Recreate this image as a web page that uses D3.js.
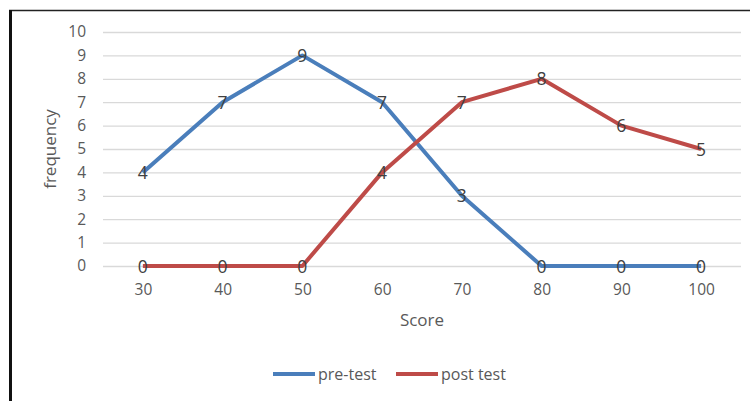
<!DOCTYPE html>
<html><head><meta charset="utf-8">
<script src="https://cdn.jsdelivr.net/npm/d3@7"></script>
<style>body{margin:0;background:#fff}svg{display:block}</style>
</head><body>
<svg id="c" width="750" height="401"></svg>
<script>
const categories = ["30","40","50","60","70","80","90","100"];
const preTest = [4,7,9,7,3,0,0,0];
const postTest = [0,0,0,4,7,8,6,5];
const yTicks = [0,1,2,3,4,5,6,7,8,9,10];
const seriesNames = ["pre-test","post test"];
const colors = ["#4a7ebb","#be4b48"];

const svg = d3.select("#c");
const font = "'Open Sans', 'Liberation Sans', sans-serif";
const L = 103, R = 741, T = 32, B = 266;

svg.append("rect").attr("x",0).attr("y",0).attr("width",750).attr("height",401).attr("fill","#fff");
// frame
svg.append("line").attr("x1",9).attr("x2",750).attr("y1",10.5).attr("y2",10.5).attr("stroke","#222").attr("stroke-width",1.5);
svg.append("line").attr("x1",10.5).attr("x2",10.5).attr("y1",10).attr("y2",401).attr("stroke","#111").attr("stroke-width",3);

const x = d3.scalePoint().domain(categories).range([L,R]).padding(0.5);
const y = d3.scaleLinear().domain([0,10]).range([B,T]);

const yAxis = svg.append("g").attr("transform",`translate(${L},0)`)
  .call(d3.axisLeft(y).tickValues(yTicks).tickSize(-(R-L)).tickPadding(17));
yAxis.select(".domain").remove();
yAxis.selectAll(".tick line").attr("stroke","#d9d9d9").attr("stroke-width",1.3);
yAxis.selectAll("text").attr("fill","#595959").style("font-family",font).style("font-size","15.5px");

const xAxis = svg.append("g").attr("transform",`translate(0,${B})`)
  .call(d3.axisBottom(x).tickSize(0).tickPadding(18));
xAxis.select(".domain").remove();
xAxis.selectAll("text").attr("fill","#595959").style("font-family",font).style("font-size","15.5px");

svg.append("text").attr("x",(L+R)/2).attr("y",326).attr("text-anchor","middle")
  .attr("fill","#595959").style("font-family",font).style("font-size","17px").text("Score");
svg.append("text").attr("transform",`translate(56,${(T+B)/2}) rotate(-90)`).attr("text-anchor","middle")
  .attr("fill","#595959").style("font-family",font).style("font-size","17px").text("frequency");

const line = d3.line().x((d,i)=>x(categories[i])).y(d=>y(d));
[preTest, postTest].forEach((s,k)=>{
  svg.append("path").datum(s).attr("d",line).attr("fill","none")
    .attr("stroke",colors[k]).attr("stroke-width",4).attr("stroke-linejoin","round");
});
[preTest, postTest].forEach((s,k)=>{
  svg.append("g").selectAll("text").data(s).join("text")
    .attr("x",(d,i)=>x(categories[i])).attr("y",d=>y(d)+6.5)
    .attr("text-anchor","middle").attr("fill","#404040")
    .style("font-family",font).style("font-size","17.5px").text(d=>d);
});

// legend
const leg = [{x:273,tx:318},{x:396,tx:441}];
leg.forEach((p,k)=>{
  svg.append("line").attr("x1",p.x).attr("x2",p.x+42).attr("y1",374).attr("y2",374)
    .attr("stroke",colors[k]).attr("stroke-width",4);
  svg.append("text").attr("x",p.tx).attr("y",380).attr("fill","#595959")
    .style("font-family",font).style("font-size","16px").text(seriesNames[k]);
});
</script>
</body></html>
